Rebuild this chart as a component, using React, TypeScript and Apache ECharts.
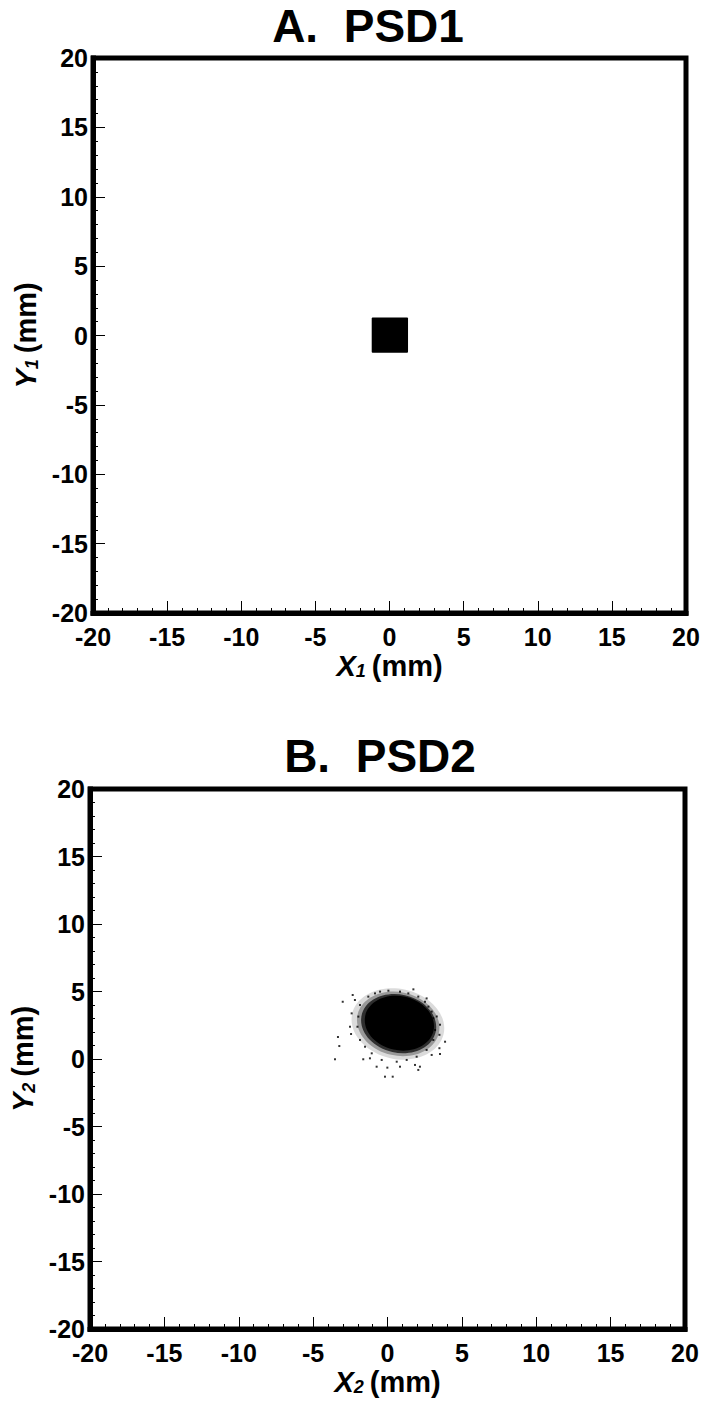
import React, { useEffect, useRef } from "react";
import * as echarts from "echarts";

// ---------- data ----------
const axisMin = -20;
const axisMax = 20;
const tickInterval = 5;

// PSD1: uniform square beam spot [xMin, yMin, xMax, yMax] (mm)
const psd1Square = [[-1.2, -1.25, 1.25, 1.3]];

// PSD2: dense core of the hit distribution, drawn as layers [cx, cy, rx, ry, opacity] (mm)
const psd2Core = [
  [0.7, 2.6, 3.15, 2.6, 0.14],
  [0.72, 2.6, 2.8, 2.35, 0.3],
  [0.75, 2.62, 2.55, 2.15, 0.7],
  [0.8, 2.65, 2.35, 2.0, 1],
];

// PSD2: sparse hits around the core [x, y] (mm)
const psd2Hits = [
  [-3.01, 4.24], [-2.34, 4.74], [-2.19, 4.37], [-2.41, 3.38], [-2.52, 2.39],
  [-2.45, 1.85], [-3.24, 0.96], [-3.53, -0.02], [-1.63, -0.02], [-1.18, 0.05],
  [-0.73, -0.57], [-0.17, -1.31], [0.35, -1.31], [-0.01, -0.64], [0.84, -0.57],
  [1.85, -0.44], [2.07, -0.81], [2.18, -0.57], [2.97, 0.3], [3.53, 0.37],
  [3.87, 1.28], [3.49, 0.8], [3.49, 1.79], [3.53, 2.54], [3.31, 3.15],
  [2.97, 3.51], [2.63, 4.49], [2.52, 4.24], [1.74, 5.16], [1.4, 4.86],
  [0.84, 4.99], [0.06, 5.06], [-0.5, 4.99], [-0.84, 4.86], [-1.29, 4.62],
  [-1.85, 4.0], [-1.96, 3.14], [-2.02, 2.39], [-1.85, 1.41], [-1.51, 0.91],
  [-1.06, 0.42], [-0.39, -0.07], [0.62, -0.2], [1.29, -0.07], [1.96, 0.17],
  [2.63, 0.67], [3.08, 1.41], [3.2, 2.15], [3.08, 3.02], [2.75, 3.88],
  [2.07, 4.62], [-3.33, 1.63],
];

const titles = ["A.  PSD1", "B.  PSD2"];
const xNames = ["1", "2"];

// ---------- styles ----------
const FONT = "'Liberation Sans', Arial, Helvetica, sans-serif";

function nameRich() {
  return {
    i: { fontSize: 29, fontWeight: "bold", fontStyle: "italic", fontFamily: FONT, color: "#000" },
    s: {
      fontSize: 18,
      fontWeight: "bold",
      fontStyle: "italic",
      fontFamily: FONT,
      color: "#000",
      verticalAlign: "bottom",
    },
    n: { fontSize: 29, fontWeight: "bold", fontFamily: FONT, color: "#000", padding: [0, 0, 0, 6] },
  };
}

function valueAxis(gridIndex: number, isX: boolean, sub: string) {
  return {
    type: "value",
    gridIndex,
    min: axisMin,
    max: axisMax,
    interval: tickInterval,
    position: isX ? "bottom" : "left",
    name: isX ? `{i|X}{s|${sub}}{n|(mm)}` : `{i|Y}{s|${sub}}{n|(mm)}`,
    nameLocation: "middle",
    nameGap: isX ? 38 : 46,
    nameRotate: isX ? 0 : 90,
    nameTextStyle: { rich: nameRich() },
    axisLine: { show: true, onZero: false, lineStyle: { color: "#000", width: 5, cap: "square" } },
    axisTick: { show: true, inside: true, length: 12, lineStyle: { color: "#000", width: 1 } },
    minorTick: { show: true, splitNumber: 5, length: 5, lineStyle: { color: "#000", width: 1 } },
    splitLine: { show: false },
    axisLabel: isX
      ? { color: "#000", fontSize: 25, fontWeight: "bold", fontFamily: FONT, margin: 11 }
      : {
          color: "#000",
          fontSize: 25,
          fontWeight: "bold",
          fontFamily: FONT,
          margin: 5,
          padding: [11, 0, 0, 0],
        },
  };
}

export default function App() {
  const ref = useRef<HTMLDivElement>(null);

  useEffect(() => {
    if (!ref.current) return;
    const chart = echarts.init(ref.current, undefined, { renderer: "svg" });

    const grids = [
      { left: 93, top: 58, width: 593, height: 555 },
      { left: 90, top: 789, width: 595, height: 540 },
    ].map((g) => ({ ...g, show: true, borderColor: "#000", borderWidth: 5, backgroundColor: "transparent" }));

    const option: any = {
      animation: false,
      backgroundColor: "#fff",
      grid: grids,
      xAxis: [valueAxis(0, true, xNames[0]), valueAxis(1, true, xNames[1])],
      yAxis: [valueAxis(0, false, xNames[0]), valueAxis(1, false, xNames[1])],
      graphic: [
        {
          type: "text",
          x: 368,
          y: 26,
          style: {
            text: titles[0],
            fill: "#000",
            font: `bold 46px ${FONT}`,
            textAlign: "center",
            textVerticalAlign: "middle",
          },
        },
        {
          type: "text",
          x: 380,
          y: 756,
          style: {
            text: titles[1],
            fill: "#000",
            font: `bold 46px ${FONT}`,
            textAlign: "center",
            textVerticalAlign: "middle",
          },
        },
      ],
      series: [
        {
          type: "custom",
          xAxisIndex: 0,
          yAxisIndex: 0,
          data: psd1Square,
          renderItem: (params: any, api: any) => {
            const p0 = api.coord([api.value(0), api.value(3)]);
            const p1 = api.coord([api.value(2), api.value(1)]);
            return {
              type: "rect",
              shape: { x: p0[0], y: p0[1], width: p1[0] - p0[0], height: p1[1] - p0[1], r: 1 },
              style: { fill: "#000" },
            };
          },
        },
        {
          type: "custom",
          xAxisIndex: 1,
          yAxisIndex: 1,
          data: psd2Core,
          renderItem: (params: any, api: any) => {
            const c = api.coord([api.value(0), api.value(1)]);
            const rx = api.size([api.value(2), 0])[0];
            const ry = api.size([0, api.value(3)])[1];
            return {
              type: "ellipse",
              x: c[0],
              y: c[1],
              rotation: -0.22,
              shape: { cx: 0, cy: 0, rx, ry },
              style: { fill: "#000", opacity: api.value(4) },
            };
          },
        },
        {
          type: "scatter",
          xAxisIndex: 1,
          yAxisIndex: 1,
          data: psd2Hits,
          symbol: "rect",
          symbolSize: 2,
          itemStyle: { color: "#000" },
        },
      ],
    };

    chart.setOption(option);
    return () => chart.dispose();
  }, []);

  return (
    <div
      ref={ref}
      style={{ position: "absolute", left: 0, top: 0, width: 703, height: 1408, background: "#fff" }}
    />
  );
}
